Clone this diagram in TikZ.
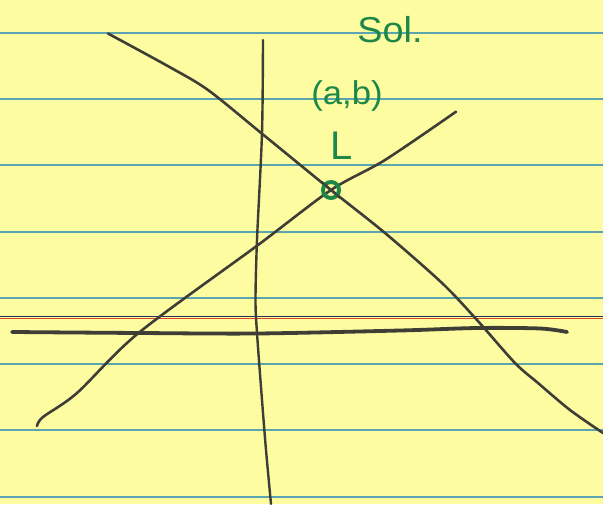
\documentclass[tikz,border=0pt]{standalone}
\usepackage{fontspec}
\setmainfont{Liberation Sans}
\definecolor{paper}{RGB}{253,252,160}
\definecolor{rulecol}{RGB}{90,165,175}
\definecolor{pencol}{RGB}{62,62,55}
\definecolor{inkcol}{RGB}{28,135,72}
\definecolor{navy}{RGB}{40,50,90}
\definecolor{redrule}{RGB}{225,70,40}
\begin{document}
\begin{tikzpicture}[x=1pt,y=-1pt,
  ruling/.style={draw=rulecol,line width=1.5pt},
  pen/.style={draw=pencol,line width=2.6pt,line cap=round,line join=round},
  ink/.style={text=inkcol,inner sep=0pt,font=\fontsize{36}{36}\selectfont}]
\useasboundingbox (0,0) rectangle (603,504);
\fill[paper] (0,0) rectangle (603,504);
% ruled lines
\foreach \yy in {33,99,165,232,298,364,430,497}
  \draw[ruling] (0,\yy) -- (603,\yy);
\draw[navy,line width=1pt] (0,316) -- (603,316);
\draw[redrule,line width=1pt] (0,318) -- (603,318);
% vertical axis
\draw[pen,line width=2.4pt] plot[smooth] coordinates {(263,40) (262,133) (257,240) (255.5,300) (257,333) (262,400) (266,450) (271,504)};
% horizontal axis
\draw[pen,line width=3.8pt] plot[smooth] coordinates {(12,332) (140,333) (257,333.5) (400,330.5) (477,328) (540,328.5) (567,332)};
% decreasing line
\draw[pen] plot[smooth] coordinates {(108,33.5) (169,66.7) (208,90) (261.5,133.3) (331,190) (385,233) (442,283) (477,320) (515,363) (538,383) (570,410) (603,433)};
% increasing line
\draw[pen] plot[smooth] coordinates {(37,426) (43,417) (77,393) (138.5,333) (258,245) (331,190) (385,160) (456,111.7)};
% solution point
\draw[inkcol,line width=4pt] (331,190) circle (8);
\draw[pen,line width=2pt] (322,182) -- (340,198);
% labels
\node[ink,xscale=1.05] (sol) at (390,30) {Sol.};
\node[ink,xscale=1.05,font=\fontsize{33}{33}\selectfont] (ab) at (347,96) {(a,b)};
\node[ink,font=\fontsize{40}{40}\selectfont] (arr) at (342,146) {L};
\end{tikzpicture}
\end{document}
